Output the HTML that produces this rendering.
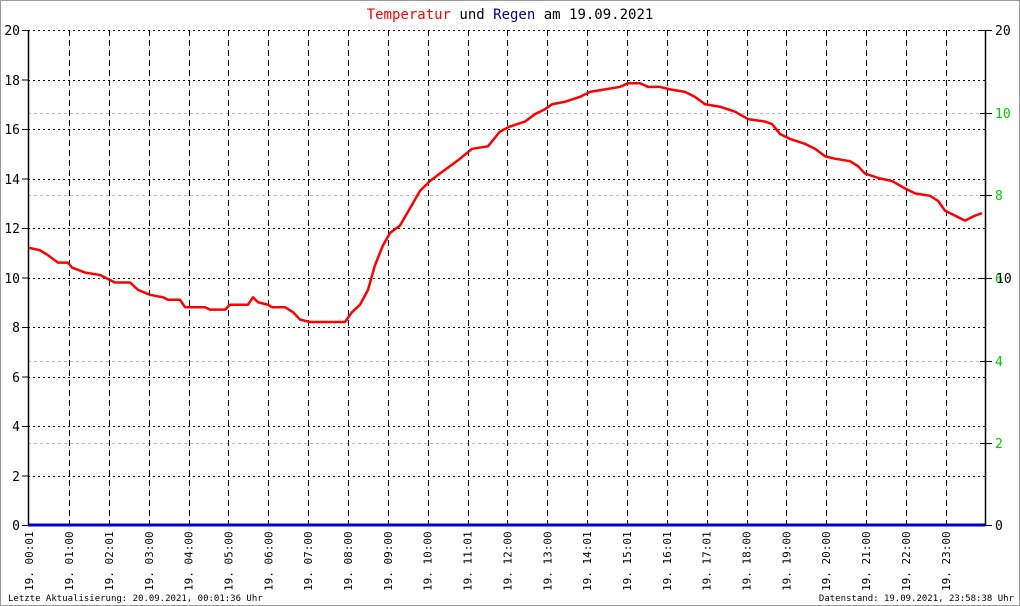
<!DOCTYPE html>
<html><head><meta charset="utf-8"><style>
html,body{margin:0;padding:0;background:#fff}
svg{display:block}
text{font-family:"DejaVu Sans Mono","Liberation Mono",monospace}
</style></head><body>
<svg width="1020" height="606" viewBox="0 0 1020 606" xmlns="http://www.w3.org/2000/svg">
<rect x="0.5" y="0.5" width="1019" height="605" fill="#fff" stroke="#999"/>
<text x="510" y="19" text-anchor="middle" font-size="14"><tspan fill="#f00">Temperatur</tspan><tspan fill="#000"> und </tspan><tspan fill="#00008b">Regen</tspan><tspan fill="#000"> am 19.09.2021</tspan></text>
<g stroke="#bbb" stroke-dasharray="3,3" stroke-width="1">
<line x1="28" y1="113.5" x2="985" y2="113.5"/><line x1="28" y1="195.5" x2="985" y2="195.5"/><line x1="28" y1="361.5" x2="985" y2="361.5"/><line x1="28" y1="443.5" x2="985" y2="443.5"/>
</g>
<g stroke="#000" stroke-dasharray="2,3" stroke-width="1">
<line x1="28" y1="30.5" x2="985" y2="30.5"/><line x1="28" y1="80.5" x2="985" y2="80.5"/><line x1="28" y1="129.5" x2="985" y2="129.5"/><line x1="28" y1="179.5" x2="985" y2="179.5"/><line x1="28" y1="228.5" x2="985" y2="228.5"/><line x1="28" y1="278.5" x2="985" y2="278.5"/><line x1="28" y1="327.5" x2="985" y2="327.5"/><line x1="28" y1="377.5" x2="985" y2="377.5"/><line x1="28" y1="426.5" x2="985" y2="426.5"/><line x1="28" y1="476.5" x2="985" y2="476.5"/>
</g>
<g stroke="#000" stroke-dasharray="6,4" stroke-width="1" id="vg"></g>
<g stroke="#000" stroke-width="1.5">
<line x1="28.5" y1="30" x2="28.5" y2="526"/><line x1="985.5" y1="30" x2="985.5" y2="526"/>
</g>
<g stroke="#000" stroke-width="1" id="ticks"></g>
<g font-size="13" text-anchor="end" fill="#000">
<text x="20" y="35">20</text><text x="20" y="85">18</text><text x="20" y="134">16</text><text x="20" y="184">14</text><text x="20" y="233">12</text><text x="20" y="283">10</text><text x="20" y="332">8</text><text x="20" y="382">6</text><text x="20" y="431">4</text><text x="20" y="481">2</text><text x="20" y="530">0</text>
</g>
<g font-size="13" fill="#0c0">
<text x="995" y="35" fill="#000">20</text><text x="995" y="118">10</text><text x="995" y="200">8</text><text x="995" y="283">6</text><text x="995" y="283" fill="#000" dx="1">10</text><text x="995" y="366">4</text><text x="995" y="448">2</text><text x="995" y="530" fill="#000">0</text>
</g>
<line x1="28" y1="525" x2="985" y2="525" stroke="#00c" stroke-width="3"/>
<g transform="matrix(1,0,0,-24.75,0,525)">
<polyline fill="none" stroke="#f00" stroke-width="2.5" vector-effect="non-scaling-stroke" stroke-linejoin="round" points="29,11.2 40,11.1 48,10.9 58,10.6 68,10.6 72,10.4 85,10.2 100,10.1 110,9.9 115,9.8 130,9.8 138,9.5 150,9.3 163,9.2 168,9.1 180,9.1 185,8.8 205,8.8 210,8.7 225,8.7 230,8.9 248,8.9 253,9.2 258,9.0 268,8.9 272,8.8 285,8.8 293,8.6 300,8.3 310,8.2 345,8.2 352,8.6 360,8.9 368,9.5 375,10.5 383,11.3 390,11.8 400,12.1 410,12.8 420,13.5 430,13.9 440,14.2 450,14.5 460,14.8 472,15.2 488,15.3 500,15.9 510,16.1 525,16.3 535,16.6 545,16.8 552,17.0 565,17.1 580,17.3 590,17.5 605,17.6 620,17.7 628,17.85 640,17.85 648,17.7 660,17.7 670,17.6 685,17.5 695,17.3 705,17.0 720,16.9 735,16.7 748,16.4 765,16.3 772,16.2 780,15.8 790,15.6 805,15.4 815,15.2 825,14.9 835,14.8 850,14.7 858,14.5 865,14.2 880,14.0 892,13.9 905,13.6 915,13.4 930,13.3 938,13.1 945,12.7 955,12.5 965,12.3 975,12.5 982,12.6"/>
</g>
<g font-size="11" fill="#000" id="xl"></g>
<text x="8" y="601" font-size="9">Letzte Aktualisierung: 20.09.2021, 00:01:36 Uhr</text>
<text x="1014" y="601" font-size="9" text-anchor="end">Datenstand: 19.09.2021, 23:58:38 Uhr</text>
<script>
var ns="http://www.w3.org/2000/svg",vg=document.getElementById('vg'),xl=document.getElementById('xl'),tk=document.getElementById('ticks');
var labs=["00:01","01:00","02:01","03:00","04:00","05:00","06:00","07:00","08:00","09:00","10:00","11:01","12:00","13:00","14:01","15:01","16:01","17:01","18:00","19:00","20:00","21:00","22:00","23:00"];
for(var i=0;i<24;i++){var x=29.2+i*39.85;
if(i>0){var l=document.createElementNS(ns,'line');l.setAttribute('x1',Math.round(x)+0.5);l.setAttribute('x2',Math.round(x)+0.5);l.setAttribute('y1',30);l.setAttribute('y2',525);vg.appendChild(l);}
var t=document.createElementNS(ns,'text');t.setAttribute('transform','translate('+(x+4)+',591) rotate(-90)');t.textContent='19. '+labs[i];xl.appendChild(t);}
for(var j=0;j<=10;j++){var y=30.5+j*49.5;var a=document.createElementNS(ns,'line');a.setAttribute('x1',22);a.setAttribute('x2',29);a.setAttribute('y1',y);a.setAttribute('y2',y);tk.appendChild(a);}
[30.5,113.5,195.5,278.5,361.5,443.5,525.5].forEach(function(y){var a=document.createElementNS(ns,'line');a.setAttribute('x1',980);a.setAttribute('x2',992);a.setAttribute('y1',y);a.setAttribute('y2',y);tk.appendChild(a);});
</script>
</svg>
</body></html>
